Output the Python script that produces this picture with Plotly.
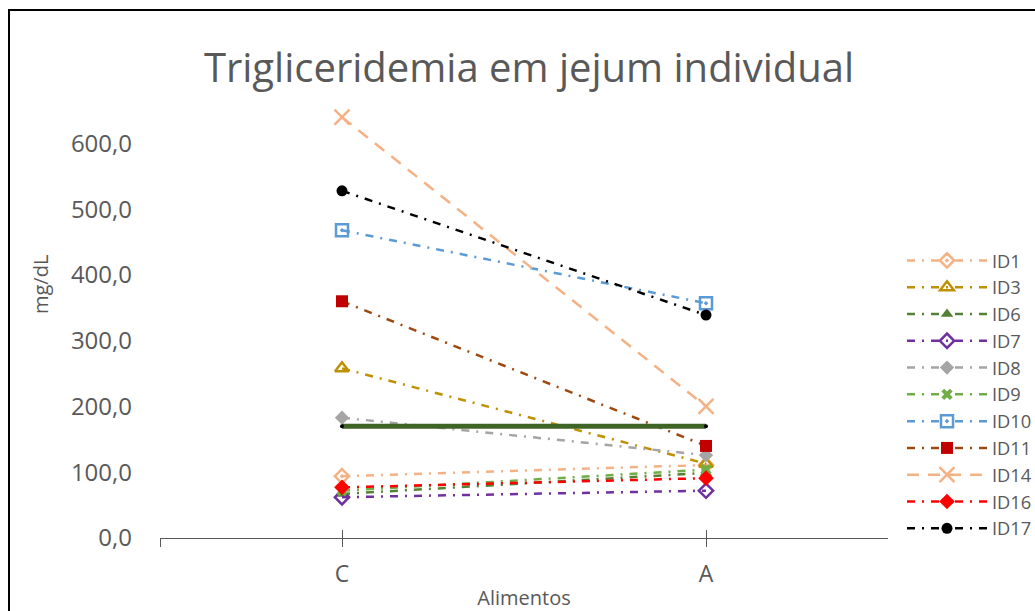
import plotly.graph_objects as go

# Fasting triglycerides per participant, two conditions
categories = ["C", "A"]
ids = ["ID1", "ID3", "ID6", "ID7", "ID8", "ID9", "ID10", "ID11", "ID14", "ID16", "ID17"]
values_c = [94, 258, 67, 62, 183, 72, 468, 360, 640, 77, 528]
values_a = [111, 113, 99, 72, 126, 104, 357, 140, 200, 91, 339]
reference_level = 170
y_ticks = [0, 100, 200, 300, 400, 500, 600]

line_colors = ["#F4B183", "#BF9000", "#548235", "#7030A0", "#A5A5A5", "#70AD47",
               "#5B9BD5", "#9E480E", "#F4B183", "#FF0000", "#000000"]
marker_colors = ["#F4B183", "#BF9000", "#548235", "#7030A0", "#A5A5A5", "#70AD47",
                 "#5B9BD5", "#C00000", "#F4B183", "#FF0000", "#000000"]
symbols = ["diamond-open-dot", "triangle-up-open", "triangle-up", "diamond-open", "diamond",
           "x", "square-open-dot", "square", "x-thin-open", "diamond", "circle"]
marker_sizes = [11, 12, 11, 11, 11, 10, 12, 12, 15, 12, 11]
dash_dot = "8px,7px,2px,7px"
dashes = [dash_dot] * len(ids)
dashes[8] = "12px,9px"

W, H = 1035, 611
L, R, T, B = 160, 147, 104, 73
y_max = 660

fig = go.Figure()
for i, name in enumerate(ids):
    outlined = "open" in symbols[i]
    fig.add_trace(go.Scatter(
        x=[0, 1], y=[values_c[i], values_a[i]], name=name, mode="lines+markers",
        line=dict(color=line_colors[i], width=2.5, dash=dashes[i]),
        marker=dict(symbol=symbols[i], size=marker_sizes[i], color=marker_colors[i],
                    line=dict(color=marker_colors[i], width=2.5 if outlined else 0)),
    ))

# reference level across both conditions
fig.add_trace(go.Scatter(
    x=[0, 1], y=[reference_level, reference_level], mode="lines+markers", showlegend=False,
    line=dict(color="#3F6526", width=5),
    marker=dict(symbol="circle", size=4, color="#000000"),
))

# crossing tick marks on the category axis
fig.add_trace(go.Scatter(x=[0, 1], y=[None, None], xaxis="x2", showlegend=False, hoverinfo="skip"))

grey = "#595959"
fig.update_layout(
    width=W, height=H,
    margin=dict(l=L, r=R, t=T, b=B, autoexpand=False),
    paper_bgcolor="white", plot_bgcolor="white",
    font=dict(family="Open Sans", color=grey),
    title=dict(text="Trigliceridemia em jejum individual", x=(205 + 853) / 2 / W, xanchor="center",
               y=1 - 68 / H, yanchor="middle", font=dict(size=40, color=grey)),
    xaxis=dict(range=[-0.5, 1.5], tickvals=[-0.5, 0, 1], ticktext=["", categories[0], categories[1]],
               showgrid=False, zeroline=False, showline=True, linecolor="#595959", linewidth=1.3,
               ticks="outside", ticklen=8, tickwidth=1.3, tickcolor="#595959",
               ticklabelstandoff=7,
               tickfont=dict(size=23, color=grey),
               title=dict(text="Alimentos", font=dict(size=20, color=grey), standoff=3)),
    xaxis2=dict(range=[-0.5, 1.5], overlaying="x", tickvals=[-0.5, 0, 1], showticklabels=False,
                ticks="inside", ticklen=8, tickwidth=1.3, tickcolor="#595959",
                showgrid=False, zeroline=False, showline=False, side="bottom", anchor="y"),
    yaxis=dict(range=[0, y_max], tickvals=y_ticks, ticktext=[f"{v:.1f}".replace(".", ",") for v in y_ticks],
               showgrid=False, zeroline=False, showline=False, ticks="", ticklabelstandoff=27,
               tickfont=dict(size=24, color=grey)),
    legend=dict(xref="container", yref="container", x=902 / W, xanchor="left",
                y=1 - 242 / H, yanchor="top",
                font=dict(size=18.3, color=grey), itemwidth=80, tracegroupgap=0,
                bgcolor="rgba(0,0,0,0)"),
    showlegend=True,
)

# vertical axis title
fig.add_annotation(text="mg/dL", xref="paper", yref="paper", textangle=-90,
                   x=(40 - L) / (W - L - R), y=(538 - 285) / (H - T - B),
                   xanchor="center", yanchor="middle", showarrow=False,
                   font=dict(size=20, color=grey))

# outer frame of the chart
fig.add_shape(type="rect", xref="paper", yref="paper",
              x0=(9 - L) / (W - L - R), x1=2.0,
              y0=-1.0, y1=(H - B - 10) / (H - T - B),
              line=dict(color="black", width=2), layer="below")

fig.write_html("out.html")
